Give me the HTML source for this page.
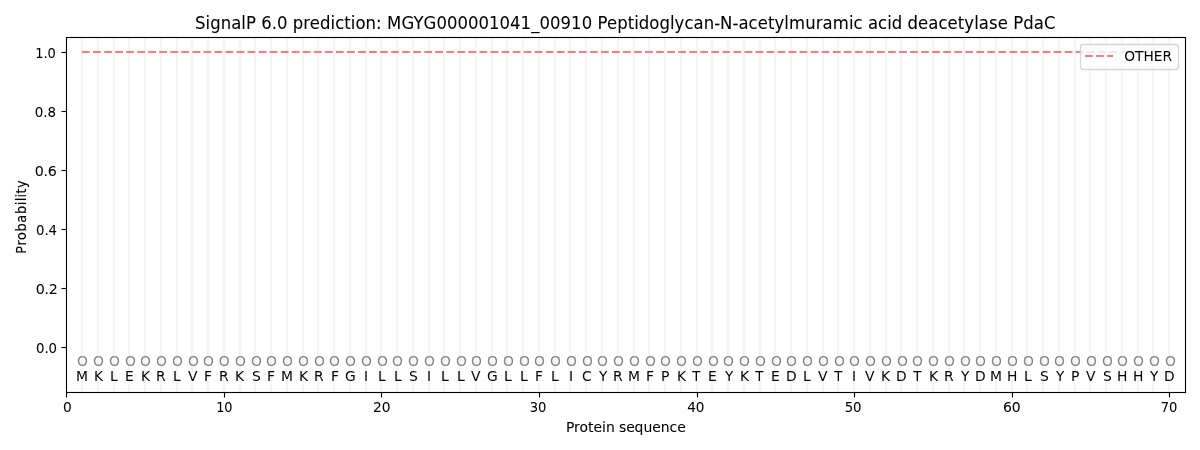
<!DOCTYPE html>
<html lang="en"><head><meta charset="utf-8"><title>SignalP 6.0 prediction</title>
<style>
html,body{margin:0;padding:0;background:#fff;overflow:hidden}
svg{display:block}
text{font-family:"DejaVu Sans","Liberation Sans",sans-serif;font-size:13.889px;fill:#000}
.t{font-size:16.667px}
.m{text-anchor:middle}
.e{text-anchor:end}
.g{fill:#848484}
#seq text{fill:#030303}
#seq .g{fill:#848484}
</style></head><body>
<svg width="1200" height="450" viewBox="0 0 1200 450">
<rect width="1200" height="450" fill="#fff"/>
<g id="grid" stroke="#f5f5f5" stroke-width="2.2">
<line x1="82" y1="38" x2="82" y2="392"/><line x1="98" y1="38" x2="98" y2="392"/><line x1="114" y1="38" x2="114" y2="392"/><line x1="129" y1="38" x2="129" y2="392"/><line x1="145" y1="38" x2="145" y2="392"/><line x1="161" y1="38" x2="161" y2="392"/><line x1="177" y1="38" x2="177" y2="392"/><line x1="192" y1="38" x2="192" y2="392"/><line x1="208" y1="38" x2="208" y2="392"/><line x1="224" y1="38" x2="224" y2="392"/><line x1="240" y1="38" x2="240" y2="392"/><line x1="255" y1="38" x2="255" y2="392"/><line x1="271" y1="38" x2="271" y2="392"/><line x1="287" y1="38" x2="287" y2="392"/><line x1="303" y1="38" x2="303" y2="392"/><line x1="318" y1="38" x2="318" y2="392"/><line x1="334" y1="38" x2="334" y2="392"/><line x1="350" y1="38" x2="350" y2="392"/><line x1="366" y1="38" x2="366" y2="392"/><line x1="381" y1="38" x2="381" y2="392"/><line x1="397" y1="38" x2="397" y2="392"/><line x1="413" y1="38" x2="413" y2="392"/><line x1="429" y1="38" x2="429" y2="392"/><line x1="444" y1="38" x2="444" y2="392"/><line x1="460" y1="38" x2="460" y2="392"/><line x1="476" y1="38" x2="476" y2="392"/><line x1="492" y1="38" x2="492" y2="392"/><line x1="507" y1="38" x2="507" y2="392"/><line x1="523" y1="38" x2="523" y2="392"/><line x1="539" y1="38" x2="539" y2="392"/><line x1="555" y1="38" x2="555" y2="392"/><line x1="570" y1="38" x2="570" y2="392"/><line x1="586" y1="38" x2="586" y2="392"/><line x1="602" y1="38" x2="602" y2="392"/><line x1="618" y1="38" x2="618" y2="392"/><line x1="634" y1="38" x2="634" y2="392"/><line x1="649" y1="38" x2="649" y2="392"/><line x1="665" y1="38" x2="665" y2="392"/><line x1="681" y1="38" x2="681" y2="392"/><line x1="697" y1="38" x2="697" y2="392"/><line x1="712" y1="38" x2="712" y2="392"/><line x1="728" y1="38" x2="728" y2="392"/><line x1="744" y1="38" x2="744" y2="392"/><line x1="760" y1="38" x2="760" y2="392"/><line x1="775" y1="38" x2="775" y2="392"/><line x1="791" y1="38" x2="791" y2="392"/><line x1="807" y1="38" x2="807" y2="392"/><line x1="823" y1="38" x2="823" y2="392"/><line x1="838" y1="38" x2="838" y2="392"/><line x1="854" y1="38" x2="854" y2="392"/><line x1="870" y1="38" x2="870" y2="392"/><line x1="886" y1="38" x2="886" y2="392"/><line x1="901" y1="38" x2="901" y2="392"/><line x1="917" y1="38" x2="917" y2="392"/><line x1="933" y1="38" x2="933" y2="392"/><line x1="949" y1="38" x2="949" y2="392"/><line x1="964" y1="38" x2="964" y2="392"/><line x1="980" y1="38" x2="980" y2="392"/><line x1="996" y1="38" x2="996" y2="392"/><line x1="1012" y1="38" x2="1012" y2="392"/><line x1="1027" y1="38" x2="1027" y2="392"/><line x1="1043" y1="38" x2="1043" y2="392"/><line x1="1059" y1="38" x2="1059" y2="392"/><line x1="1075" y1="38" x2="1075" y2="392"/><line x1="1090" y1="38" x2="1090" y2="392"/><line x1="1106" y1="38" x2="1106" y2="392"/><line x1="1122" y1="38" x2="1122" y2="392"/><line x1="1138" y1="38" x2="1138" y2="392"/><line x1="1153" y1="38" x2="1153" y2="392"/><line x1="1169" y1="38" x2="1169" y2="392"/>
</g>
<g id="seq">
<text id="o1" class="m g" transform="translate(82.53 365.52) scale(1 1.04)">O</text><text id="a1" class="m" transform="translate(82.03 380.54) scale(1 1.02)">M</text>
<text id="o2" class="m g" transform="translate(98.54 365.52) scale(1 1.04)">O</text><text id="a2" class="m" transform="translate(98.54 380.54) scale(1 0.98)">K</text>
<text id="o3" class="m g" transform="translate(114.55 365.52) scale(1 1.04)">O</text><text id="a3" class="m" transform="translate(113.80 380.54) scale(1 1.06)">L</text>
<text id="o4" class="m g" transform="translate(130.55 365.52) scale(1 1.04)">O</text><text id="a4" class="m" transform="translate(129.30 380.54) scale(1 1.06)">E</text>
<text id="o5" class="m g" transform="translate(145.56 365.52) scale(1 1.04)">O</text><text id="a5" class="m" transform="translate(145.56 380.54) scale(1 0.98)">K</text>
<text id="o6" class="m g" transform="translate(161.57 365.52) scale(1 1.04)">O</text><text id="a6" class="m" transform="translate(160.82 380.54) scale(1 1.06)">R</text>
<text id="o7" class="m g" transform="translate(177.57 365.52) scale(1 1.04)">O</text><text id="a7" class="m" transform="translate(176.82 380.54) scale(1 1.06)">L</text>
<text id="o8" class="m g" transform="translate(193.58 365.52) scale(1 1.04)">O</text><text id="a8" class="m" transform="translate(192.83 380.54) scale(1 0.98)">V</text>
<text id="o9" class="m g" transform="translate(208.59 365.52) scale(1 1.04)">O</text><text id="a9" class="m" transform="translate(208.09 380.54) scale(1 0.98)">F</text>
<text id="o10" class="m g" transform="translate(224.34 365.52) scale(1 1.04)">O</text><text id="a10" class="m" transform="translate(223.84 380.54) scale(1 1.06)">R</text>
<text id="o11" class="m g" transform="translate(240.35 365.52) scale(1 1.04)">O</text><text id="a11" class="m" transform="translate(239.60 380.54) scale(1 0.98)">K</text>
<text id="o12" class="m g" transform="translate(256.36 365.52) scale(1 1.04)">O</text><text id="a12" class="m" transform="translate(256.36 380.54) scale(1 0.98)">S</text>
<text id="o13" class="m g" transform="translate(271.36 365.52) scale(1 1.04)">O</text><text id="a13" class="m" transform="translate(271.11 380.54) scale(1 0.98)">F</text>
<text id="o14" class="m g" transform="translate(287.37 365.52) scale(1 1.04)">O</text><text id="a14" class="m" transform="translate(286.87 380.54) scale(1 1.02)">M</text>
<text id="o15" class="m g" transform="translate(303.38 365.52) scale(1 1.04)">O</text><text id="a15" class="m" transform="translate(303.63 380.54) scale(1 0.98)">K</text>
<text id="o16" class="m g" transform="translate(319.38 365.52) scale(1 1.04)">O</text><text id="a16" class="m" transform="translate(318.88 380.54) scale(1 1.06)">R</text>
<text id="o17" class="m g" transform="translate(334.39 365.52) scale(1 1.04)">O</text><text id="a17" class="m" transform="translate(334.89 380.54) scale(1 0.98)">F</text>
<text id="o18" class="m g" transform="translate(350.40 365.52) scale(1 1.04)">O</text><text id="a18" class="m" transform="translate(350.40 380.54) scale(1 0.98)">G</text>
<text id="o19" class="m g" transform="translate(366.40 365.52) scale(1 1.04)">O</text><text id="a19" class="m" transform="translate(366.15 380.54) scale(1 0.98)">I</text>
<text id="o20" class="m g" transform="translate(382.41 365.52) scale(1 1.04)">O</text><text id="a20" class="m" transform="translate(381.91 380.54) scale(1 1.06)">L</text>
<text id="o21" class="m g" transform="translate(397.42 365.52) scale(1 1.04)">O</text><text id="a21" class="m" transform="translate(397.92 380.54) scale(1 1.06)">L</text>
<text id="o22" class="m g" transform="translate(413.42 365.52) scale(1 1.04)">O</text><text id="a22" class="m" transform="translate(413.42 380.54) scale(1 0.98)">S</text>
<text id="o23" class="m g" transform="translate(429.43 365.52) scale(1 1.04)">O</text><text id="a23" class="m" transform="translate(428.93 380.54) scale(1 0.98)">I</text>
<text id="o24" class="m g" transform="translate(445.44 365.52) scale(1 1.04)">O</text><text id="a24" class="m" transform="translate(444.94 380.54) scale(1 1.06)">L</text>
<text id="o25" class="m g" transform="translate(461.44 365.52) scale(1 1.04)">O</text><text id="a25" class="m" transform="translate(460.94 380.54) scale(1 1.06)">L</text>
<text id="o26" class="m g" transform="translate(476.45 365.52) scale(1 1.04)">O</text><text id="a26" class="m" transform="translate(475.70 380.54) scale(1 0.98)">V</text>
<text id="o27" class="m g" transform="translate(492.46 365.52) scale(1 1.04)">O</text><text id="a27" class="m" transform="translate(492.46 380.54) scale(1 0.98)">G</text>
<text id="o28" class="m g" transform="translate(508.46 365.52) scale(1 1.04)">O</text><text id="a28" class="m" transform="translate(507.96 380.54) scale(1 1.06)">L</text>
<text id="o29" class="m g" transform="translate(524.47 365.52) scale(1 1.04)">O</text><text id="a29" class="m" transform="translate(523.97 380.54) scale(1 1.06)">L</text>
<text id="o30" class="m g" transform="translate(539.48 365.52) scale(1 1.04)">O</text><text id="a30" class="m" transform="translate(538.98 380.54) scale(1 0.98)">F</text>
<text id="o31" class="m g" transform="translate(555.48 365.52) scale(1 1.04)">O</text><text id="a31" class="m" transform="translate(554.98 380.54) scale(1 1.06)">L</text>
<text id="o32" class="m g" transform="translate(571.49 365.52) scale(1 1.04)">O</text><text id="a32" class="m" transform="translate(570.99 380.54) scale(1 0.98)">I</text>
<text id="o33" class="m g" transform="translate(587.50 365.52) scale(1 1.04)">O</text><text id="a33" class="m" transform="translate(586.75 380.54) scale(1 1.02)">C</text>
<text id="o34" class="m g" transform="translate(602.50 365.52) scale(1 1.04)">O</text><text id="a34" class="m" transform="translate(603.25 380.54) scale(0.98 0.98)">Y</text>
<text id="o35" class="m g" transform="translate(618.51 365.52) scale(1 1.04)">O</text><text id="a35" class="m" transform="translate(617.76 380.54) scale(1 1.06)">R</text>
<text id="o36" class="m g" transform="translate(634.52 365.52) scale(1 1.04)">O</text><text id="a36" class="m" transform="translate(634.02 380.54) scale(1 1.02)">M</text>
<text id="o37" class="m g" transform="translate(650.52 365.52) scale(1 1.04)">O</text><text id="a37" class="m" transform="translate(650.02 380.54) scale(1 0.98)">F</text>
<text id="o38" class="m g" transform="translate(665.53 365.52) scale(1 1.04)">O</text><text id="a38" class="m" transform="translate(665.28 380.54) scale(1 1.06)">P</text>
<text id="o39" class="m g" transform="translate(681.54 365.52) scale(1 1.04)">O</text><text id="a39" class="m" transform="translate(681.54 380.54) scale(1 0.98)">K</text>
<text id="o40" class="m g" transform="translate(697.54 365.52) scale(1 1.04)">O</text><text id="a40" class="m" transform="translate(696.29 380.54) scale(0.96 1)">T</text>
<text id="o41" class="m g" transform="translate(713.55 365.52) scale(1 1.04)">O</text><text id="a41" class="m" transform="translate(712.30 380.54) scale(1 1.06)">E</text>
<text id="o42" class="m g" transform="translate(728.56 365.52) scale(1 1.04)">O</text><text id="a42" class="m" transform="translate(729.06 380.54) scale(0.98 0.98)">Y</text>
<text id="o43" class="m g" transform="translate(744.56 365.52) scale(1 1.04)">O</text><text id="a43" class="m" transform="translate(744.56 380.54) scale(1 0.98)">K</text>
<text id="o44" class="m g" transform="translate(760.57 365.52) scale(1 1.04)">O</text><text id="a44" class="m" transform="translate(759.32 380.54) scale(0.96 1)">T</text>
<text id="o45" class="m g" transform="translate(776.58 365.52) scale(1 1.04)">O</text><text id="a45" class="m" transform="translate(775.33 380.54) scale(1 1.06)">E</text>
<text id="o46" class="m g" transform="translate(791.58 365.52) scale(1 1.04)">O</text><text id="a46" class="m" transform="translate(791.33 380.54) scale(1 1.06)">D</text>
<text id="o47" class="m g" transform="translate(807.59 365.52) scale(1 1.04)">O</text><text id="a47" class="m" transform="translate(806.84 380.54) scale(1 1.06)">L</text>
<text id="o48" class="m g" transform="translate(823.35 365.52) scale(1 1.04)">O</text><text id="a48" class="m" transform="translate(822.85 380.54) scale(1 0.98)">V</text>
<text id="o49" class="m g" transform="translate(839.35 365.52) scale(1 1.04)">O</text><text id="a49" class="m" transform="translate(838.35 380.54) scale(0.96 1)">T</text>
<text id="o50" class="m g" transform="translate(854.36 365.52) scale(1 1.04)">O</text><text id="a50" class="m" transform="translate(854.11 380.54) scale(1 0.98)">I</text>
<text id="o51" class="m g" transform="translate(870.37 365.52) scale(1 1.04)">O</text><text id="a51" class="m" transform="translate(869.87 380.54) scale(1 0.98)">V</text>
<text id="o52" class="m g" transform="translate(886.37 365.52) scale(1 1.04)">O</text><text id="a52" class="m" transform="translate(885.62 380.54) scale(1 0.98)">K</text>
<text id="o53" class="m g" transform="translate(902.38 365.52) scale(1 1.04)">O</text><text id="a53" class="m" transform="translate(901.38 380.54) scale(1 1.06)">D</text>
<text id="o54" class="m g" transform="translate(917.39 365.52) scale(1 1.04)">O</text><text id="a54" class="m" transform="translate(917.39 380.54) scale(0.96 1)">T</text>
<text id="o55" class="m g" transform="translate(933.39 365.52) scale(1 1.04)">O</text><text id="a55" class="m" transform="translate(933.64 380.54) scale(1 0.98)">K</text>
<text id="o56" class="m g" transform="translate(949.40 365.52) scale(1 1.04)">O</text><text id="a56" class="m" transform="translate(948.90 380.54) scale(1 1.06)">R</text>
<text id="o57" class="m g" transform="translate(965.41 365.52) scale(1 1.04)">O</text><text id="a57" class="m" transform="translate(965.16 380.54) scale(0.98 0.98)">Y</text>
<text id="o58" class="m g" transform="translate(980.41 365.52) scale(1 1.04)">O</text><text id="a58" class="m" transform="translate(980.41 380.54) scale(1 1.06)">D</text>
<text id="o59" class="m g" transform="translate(996.42 365.52) scale(1 1.04)">O</text><text id="a59" class="m" transform="translate(995.92 380.54) scale(1 1.02)">M</text>
<text id="o60" class="m g" transform="translate(1012.43 365.52) scale(1 1.04)">O</text><text id="a60" class="m" transform="translate(1012.18 380.54) scale(1 0.98)">H</text>
<text id="o61" class="m g" transform="translate(1028.43 365.52) scale(1 1.04)">O</text><text id="a61" class="m" transform="translate(1027.93 380.54) scale(1 1.06)">L</text>
<text id="o62" class="m g" transform="translate(1044.44 365.52) scale(1 1.04)">O</text><text id="a62" class="m" transform="translate(1044.44 380.54) scale(1 0.98)">S</text>
<text id="o63" class="m g" transform="translate(1059.45 365.52) scale(1 1.04)">O</text><text id="a63" class="m" transform="translate(1060.20 380.54) scale(0.98 0.98)">Y</text>
<text id="o64" class="m g" transform="translate(1075.45 365.52) scale(1 1.04)">O</text><text id="a64" class="m" transform="translate(1075.20 380.54) scale(1 1.06)">P</text>
<text id="o65" class="m g" transform="translate(1091.46 365.52) scale(1 1.04)">O</text><text id="a65" class="m" transform="translate(1090.71 380.54) scale(1 0.98)">V</text>
<text id="o66" class="m g" transform="translate(1107.47 365.52) scale(1 1.04)">O</text><text id="a66" class="m" transform="translate(1107.47 380.54) scale(1 0.98)">S</text>
<text id="o67" class="m g" transform="translate(1122.47 365.52) scale(1 1.04)">O</text><text id="a67" class="m" transform="translate(1122.22 380.54) scale(1 0.98)">H</text>
<text id="o68" class="m g" transform="translate(1138.48 365.52) scale(1 1.04)">O</text><text id="a68" class="m" transform="translate(1138.23 380.54) scale(1 0.98)">H</text>
<text id="o69" class="m g" transform="translate(1154.49 365.52) scale(1 1.04)">O</text><text id="a69" class="m" transform="translate(1154.24 380.54) scale(0.98 0.98)">Y</text>
<text id="o70" class="m g" transform="translate(1170.49 365.52) scale(1 1.04)">O</text><text id="a70" class="m" transform="translate(1169.24 380.54) scale(1 1.06)">D</text>
</g>
<line x1="82.03" y1="52" x2="1169.24" y2="52" stroke="#f08080" stroke-opacity="0.047" stroke-width="4" stroke-dasharray="7.708 3.333"/>
<line id="other" x1="82.03" y1="52" x2="1169.24" y2="52" stroke="#f08080" stroke-width="2.083" stroke-dasharray="7.708 3.333"/>
<g id="ticks" stroke="#000" stroke-width="1.111">
<line x1="66.5" y1="392.5" x2="66.5" y2="397.5"/><line x1="224.5" y1="392.5" x2="224.5" y2="397.5"/><line x1="381.5" y1="392.5" x2="381.5" y2="397.5"/><line x1="539.5" y1="392.5" x2="539.5" y2="397.5"/><line x1="697.5" y1="392.5" x2="697.5" y2="397.5"/><line x1="854.5" y1="392.5" x2="854.5" y2="397.5"/><line x1="1012.5" y1="392.5" x2="1012.5" y2="397.5"/><line x1="1169.5" y1="392.5" x2="1169.5" y2="397.5"/>
<line x1="66.5" y1="347.5" x2="61.5" y2="347.5"/><line x1="66.5" y1="288.5" x2="61.5" y2="288.5"/><line x1="66.5" y1="229.5" x2="61.5" y2="229.5"/><line x1="66.5" y1="170.5" x2="61.5" y2="170.5"/><line x1="66.5" y1="111.5" x2="61.5" y2="111.5"/><line x1="66.5" y1="52.5" x2="61.5" y2="52.5"/>
</g>
<g id="xlabels">
<text id="xt0" class="m" stroke="#000" stroke-width="0.04" transform="translate(67.28 411.50) scale(0.99 0.98)">0</text><text id="xt1" class="m" stroke="#000" stroke-width="0.04" transform="translate(224.34 412.00) scale(0.93 1.01)">10</text><text id="xt2" stroke="#000" stroke-width="0.04" transform="translate(381.66 412.00) scale(0.995 1.04)" x="-8.79 0.00">20</text><text id="xt3" class="m" stroke="#000" stroke-width="0.04" transform="translate(537.98 412.00) scale(0.945 1)">30</text><text id="xt4" class="m" stroke="#000" stroke-width="0.04" transform="translate(695.79 412.00) scale(0.98 1.04)">40</text><text id="xt5" class="m" stroke="#000" stroke-width="0.04" transform="translate(853.11 412.00) scale(0.96 1.04)">50</text><text id="xt6" stroke="#000" stroke-width="0.04" transform="translate(1011.80 412.00) scale(1.01 1)" x="-8.73 0.06">60</text><text id="xt7" class="m" stroke="#000" stroke-width="0.04" transform="translate(1168.99 412.00) scale(0.945 1)">70</text>
</g>
<g id="ylabels">
<text id="yt0" class="e" stroke="#000" stroke-width="0.04" transform="translate(57.06 352.70) scale(0.955 1.01)">0.0</text><text id="yt1" stroke="#000" stroke-width="0.04" transform="translate(57.56 293.64) scale(1.025 1.02)" x="-21.34 -12.80 -8.54">0.2</text><text id="yt2" class="e" stroke="#000" stroke-width="0.04" transform="translate(57.06 234.57) scale(0.955 1.02)">0.4</text><text id="yt3" stroke="#000" stroke-width="0.04" transform="translate(56.69 175.51) scale(1.025 1.05)" x="-21.46 -12.93 -8.66">0.6</text><text id="yt4" class="e" stroke="#000" stroke-width="0.04" transform="translate(56.06 116.69) scale(0.97 1.02)">0.8</text><text id="yt5" class="e" stroke="#000" stroke-width="0.04" transform="translate(55.81 57.63) scale(0.935 1.06)">1.0</text>
</g>
<text id="xl" stroke="#000" stroke-width="0.06" transform="translate(625.76 431.50) scale(1.005 0.95)" x="-59.58 -51.49 -46.02 -37.56 -32.09 -23.63 -19.78 -11.07 -6.72 0.37 8.83 17.66 26.37 34.83 43.53 51.12">Protein sequence</text>
<text id="yl" stroke="#000" stroke-width="0.16" transform="translate(26.02 216.78) rotate(-90) scale(0.925 1.04)" x="-39.93 -31.15 -25.20 -16.01 -6.42 2.91 12.50 16.69 20.88 25.07 31.01">Probability</text>
<text id="ti" class="t" stroke="#000" stroke-width="0.06" transform="translate(625.26 29.00) scale(0.99 1.06)" x="-434.53 -423.93 -419.26 -408.65 -398.04 -387.82 -383.14 -372.92 -367.61 -357.01 -351.70 -341.10 -335.80 -325.19 -318.62 -308.27 -297.66 -292.99 -283.78 -277.21 -272.54 -262.31 -251.70 -245.90 -240.59 -226.07 -213.95 -203.72 -190.72 -180.11 -169.51 -158.90 -148.30 -137.69 -126.96 -116.35 -105.74 -95.01 -86.55 -75.95 -65.34 -54.73 -44.00 -33.40 -28.09 -18.50 -8.14 2.46 9.03 13.70 24.31 34.53 45.14 49.81 59.79 69.00 79.23 89.84 95.77 108.40 114.33 124.56 133.78 144.13 150.69 160.67 165.34 181.76 192.36 199.31 209.53 225.95 230.62 239.84 245.14 255.37 264.58 269.26 279.86 285.16 295.77 306.12 316.35 325.57 335.92 342.49 352.46 357.13 367.36 376.20 386.55 391.86 402.08 412.69 422.92">SignalP 6.0 <tspan stroke-width="0.085">prediction:</tspan> <tspan stroke-width="0.035">MGYG000001041_00910</tspan> Peptidoglycan-N-acetylmuramic <tspan stroke-width="0.07">acid</tspan> <tspan stroke-width="0.085">deacetylase</tspan> PdaC</text>
<rect id="spines" x="66.5" y="37.5" width="1119" height="355" fill="none" stroke="#000" stroke-width="1.111"/>
<g id="legend">
<rect x="1080.5" y="44.5" width="98" height="25" rx="2.8" ry="2.8" fill="#fff" fill-opacity="0.8" stroke="#ccc" stroke-opacity="0.8" stroke-width="1.389"/>
<line x1="1085" y1="56" x2="1113.1" y2="56" stroke="#f08080" stroke-opacity="0.047" stroke-width="4" stroke-dasharray="7.708 3.333"/>
<line x1="1085" y1="56" x2="1113.1" y2="56" stroke="#f08080" stroke-width="2.083" stroke-dasharray="7.708 3.333"/>
<text id="lt" transform="translate(1124.31 60.61) scale(0.99 1.01)">OTHER</text>
</g>
</svg>
</body></html>
